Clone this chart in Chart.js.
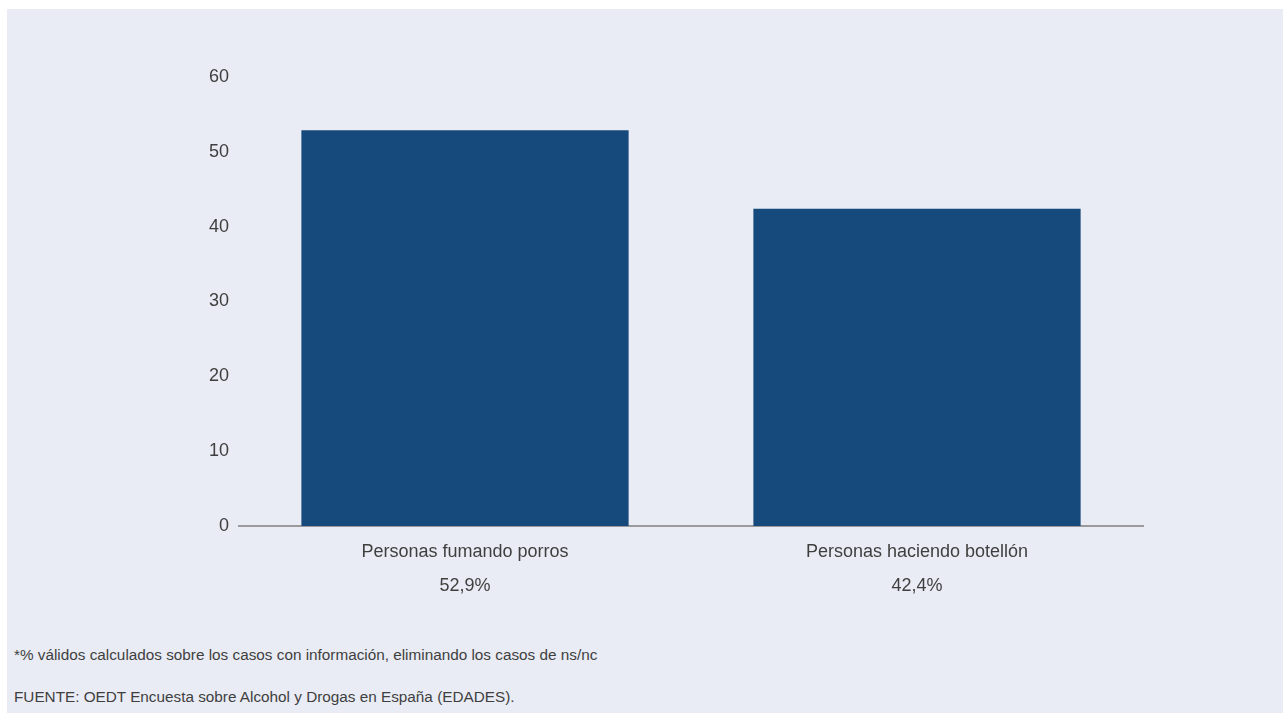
<!DOCTYPE html>
<html lang="es">
<head>
    <meta charset="UTF-8">
    <title>Personas fumando porros / haciendo botellón</title>
    <script src="https://cdn.jsdelivr.net/npm/chart.js"></script>
    <style>
        body { margin: 0; background: #ffffff; }
        .panel {
            position: absolute; left: 7px; top: 9px;
            width: 1276px; height: 704px;
            background: #e9ecf4;
            font-family: "Liberation Sans", Arial, Helvetica, sans-serif;
            color: #3f3f3f;
        }
        #grafico { position: absolute; left: 0; top: 0; }
        .nota { position: absolute; left: 7px; font-size: 15.3px; line-height: 18px; white-space: nowrap; }
    </style>
</head>
<body>
    <div class="panel">
        <canvas id="grafico" width="1276" height="620"></canvas>
        <div class="nota" style="top: 637px;">*% válidos calculados sobre los casos con información, eliminando los casos de ns/nc</div>
        <div class="nota" style="top: 679px;">FUENTE: OEDT Encuesta sobre Alcohol y Drogas en España (EDADES).</div>
    </div>

    <script>
        // Datos del gráfico
        const categorias = ['Personas fumando porros', 'Personas haciendo botellón'];
        const valores = [52.9, 42.4];
        const ticksY = [0, 10, 20, 30, 40, 50, 60];

        // Etiquetas del eje X: categoría + porcentaje con coma decimal
        const etiquetas = categorias.map((c, i) => [c, valores[i].toFixed(1).replace('.', ',') + '%']);

        const ctx = document.getElementById('grafico').getContext('2d');
        new Chart(ctx, {
            type: 'bar',
            data: {
                labels: etiquetas,
                datasets: [{
                    data: valores,
                    backgroundColor: '#174a7c',
                    borderWidth: 0,
                    categoryPercentage: 1,
                    barPercentage: 0.724
                }]
            },
            options: {
                responsive: false,
                animation: false,
                layout: { padding: { top: 68, right: 140, left: 0, bottom: 0 } },
                plugins: { legend: { display: false }, tooltip: { enabled: false } },
                scales: {
                    x: {
                        grid: { display: false, drawTicks: false },
                        border: { display: true, color: '#9a9a9a', width: 2 },
                        ticks: {
                            padding: 9,
                            color: '#3f3f3f',
                            font: { family: '"Liberation Sans", Arial, sans-serif', size: 18, lineHeight: '34px' }
                        },
                        afterFit: (eje) => { eje.height = 103; }
                    },
                    y: {
                        min: 0,
                        max: 60,
                        afterBuildTicks: (eje) => { eje.ticks = ticksY.map(v => ({ value: v })); },
                        grid: { display: false, drawTicks: false },
                        border: { display: false },
                        ticks: {
                            padding: 10,
                            color: '#3f3f3f',
                            font: { family: '"Liberation Sans", Arial, sans-serif', size: 18 }
                        },
                        afterFit: (eje) => { eje.width = 232; }
                    }
                }
            }
        });
    </script>
</body>
</html>
